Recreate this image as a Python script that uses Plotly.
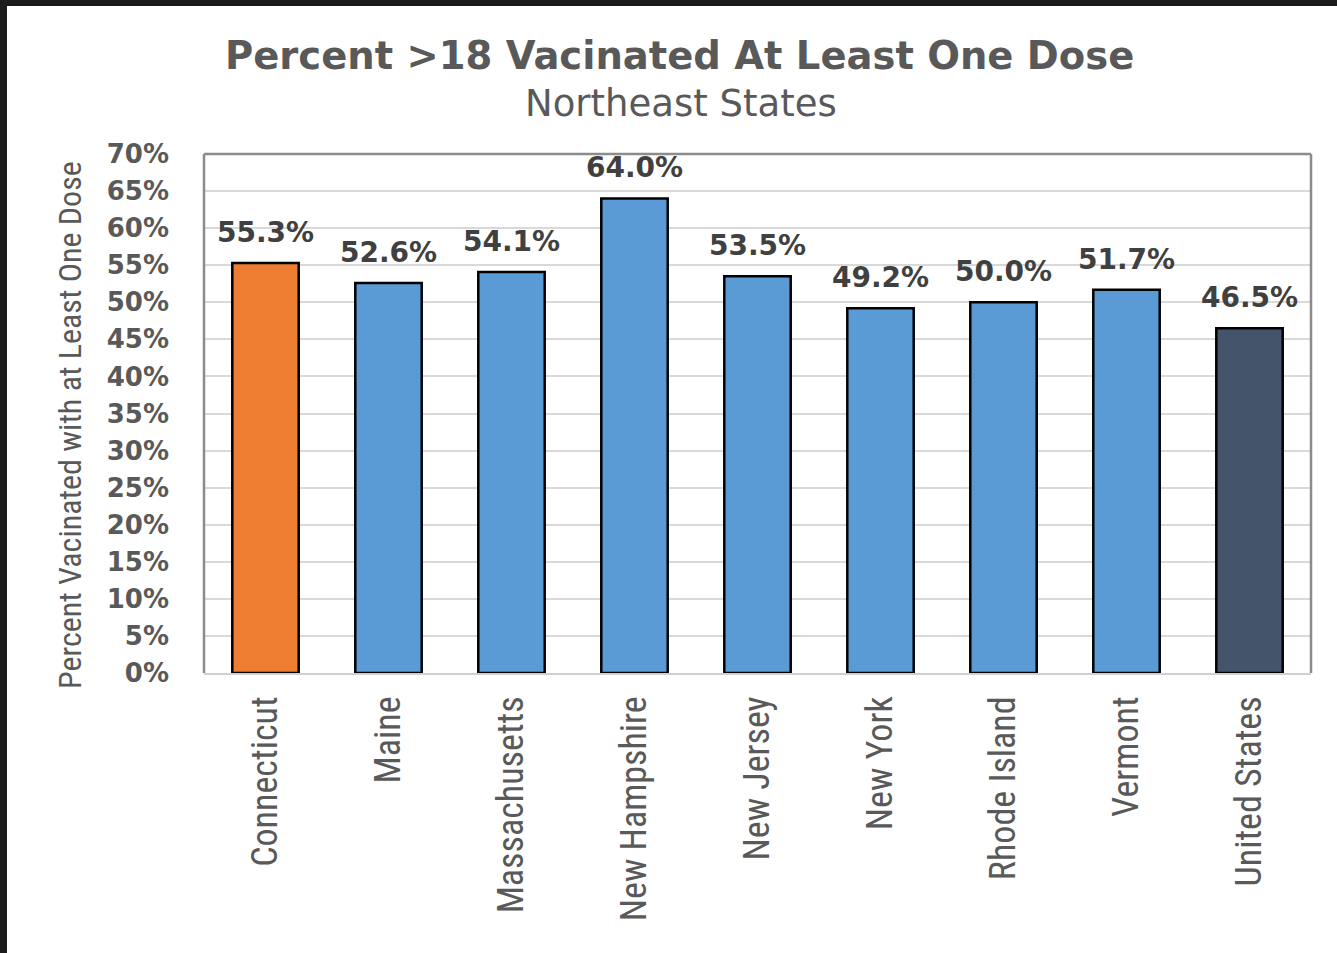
import plotly.graph_objects as go

categories = ["Connecticut", "Maine", "Massachusetts", "New Hampshire", "New Jersey",
              "New York", "Rhode Island", "Vermont", "United States"]
values = [55.3, 52.6, 54.1, 64.0, 53.5, 49.2, 50.0, 51.7, 46.5]
colors = ["#ED7D31", "#5B9BD5", "#5B9BD5", "#5B9BD5", "#5B9BD5",
          "#5B9BD5", "#5B9BD5", "#5B9BD5", "#44546A"]
tick_vals = list(range(0, 75, 5))
tick_text = [f"{v}%" for v in tick_vals]
labels = [f"{v:.1f}%" for v in values]

W, H = 1337, 953
L, R, T, B = 204, 26, 154, 280
pw, ph = W - L - R, H - T - B

def px(x):
    return (x - L) / pw

def py(y):
    return (H - B - y) / ph

NARROW = "Liberation Sans Narrow, Roboto Condensed, Arial Narrow, sans-serif"

fig = go.Figure()
fig.add_trace(go.Bar(
    x=categories, y=values,
    marker=dict(color=colors, line=dict(color="#000000", width=2.5)),
    hoverinfo="x+y",
))

annotations = [
    dict(x=c, y=v, xref="x", yref="y", text=f"<b>{t}</b>", showarrow=False,
         xanchor="center", yanchor="bottom", yshift=12,
         font=dict(family="DejaVu Sans", size=28, color="#404040"))
    for c, v, t in zip(categories, values, labels)
]
annotations += [
    dict(text="<b>Percent >18 Vacinated At Least One Dose</b>", x=px(679), y=py(55),
         xref="paper", yref="paper", showarrow=False, xanchor="center", yanchor="middle",
         font=dict(family="DejaVu Sans", size=38.5, color="#595959")),
    dict(text="Northeast States", x=px(681), y=py(103),
         xref="paper", yref="paper", showarrow=False, xanchor="center", yanchor="middle",
         font=dict(family="DejaVu Sans", size=37, color="#595959")),
    dict(text="Percent Vacinated with at Least One Dose", x=px(70), y=py(425),
         xref="paper", yref="paper", showarrow=False, xanchor="center", yanchor="middle",
         textangle=-90,
         font=dict(family=NARROW, size=32, color="#595959")),
]

fig.update_layout(
    width=W, height=H,
    margin=dict(l=L, r=R, t=T, b=B),
    paper_bgcolor="white", plot_bgcolor="white",
    bargap=0.46,
    showlegend=False,
    xaxis=dict(
        tickangle=-90, showgrid=False,
        tickfont=dict(family=NARROW, size=36, color="#595959"),
        showline=True, linecolor="#d0d0d0", linewidth=2, ticks="",
        ticklabelstandoff=7,
    ),
    yaxis=dict(
        range=[0, 70], tickvals=tick_vals, ticktext=tick_text,
        tickfont=dict(family="DejaVu Sans", size=26, color="#595959", weight="bold"),
        showgrid=True, gridcolor="#d9d9d9", gridwidth=2,
        zeroline=False, showline=False, ticks="", ticklabelstandoff=34,
    ),
    annotations=annotations,
    shapes=[
        dict(type="line", xref="paper", yref="paper", x0=0, x1=1, y0=1, y1=1,
             line=dict(color="#8c8c8c", width=2.5)),
        dict(type="line", xref="paper", yref="paper", x0=0, x1=0, y0=0, y1=1,
             line=dict(color="#8c8c8c", width=2.5)),
        dict(type="line", xref="paper", yref="paper", x0=1, x1=1, y0=0, y1=1,
             line=dict(color="#8c8c8c", width=2.5)),
        dict(type="rect", xref="paper", yref="paper", x0=px(0), x1=px(7), y0=py(H), y1=py(0),
             fillcolor="#1b1b1b", line=dict(width=0), layer="above"),
        dict(type="rect", xref="paper", yref="paper", x0=px(0), x1=px(W), y0=py(6), y1=py(0),
             fillcolor="#1b1b1b", line=dict(width=0), layer="above"),
    ],
)

fig.write_html("out.html", config={"displayModeBar": False},
               post_script="document.body.style.margin='0px';document.body.style.overflow='hidden';")
